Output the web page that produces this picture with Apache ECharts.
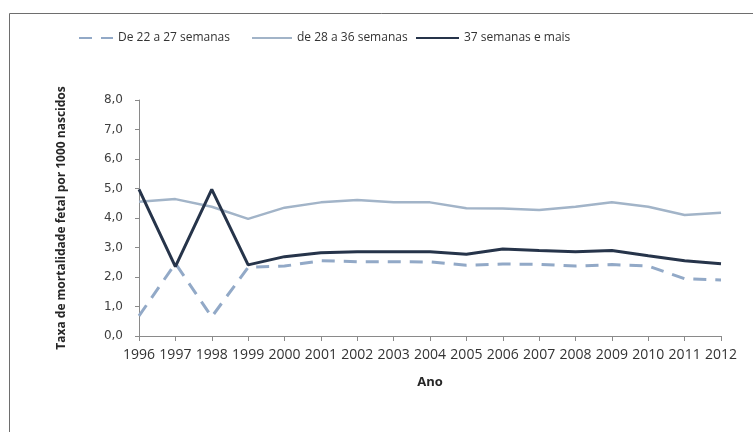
<!DOCTYPE html>
<html>
<head>
<meta charset="utf-8">
<script src="https://cdn.jsdelivr.net/npm/echarts@6/dist/echarts.min.js"></script>
<style>
  html, body { margin: 0; padding: 0; background: #fff; }
  #chart { width: 753px; height: 432px; }
</style>
</head>
<body>
<div id="chart"></div>
<script>
// Fetal mortality rate per 1000 births, by gestational age group
const years = ['1996','1997','1998','1999','2000','2001','2002','2003','2004',
               '2005','2006','2007','2008','2009','2010','2011','2012'];
const weeks22to27 = [0.68, 2.46, 0.65, 2.33, 2.37, 2.55, 2.52, 2.52, 2.51,
                     2.40, 2.44, 2.43, 2.37, 2.42, 2.37, 1.94, 1.90];
const weeks28to36 = [4.55, 4.64, 4.38, 3.97, 4.35, 4.53, 4.61, 4.53, 4.53,
                     4.33, 4.32, 4.27, 4.38, 4.53, 4.38, 4.10, 4.18];
const weeks37plus = [4.97, 2.35, 4.97, 2.41, 2.69, 2.82, 2.86, 2.86, 2.86,
                     2.77, 2.95, 2.90, 2.86, 2.90, 2.72, 2.55, 2.45];
const yTicks = [0, 1, 2, 3, 4, 5, 6, 7, 8];

const names = ['De 22 a 27 semanas', 'de 28 a 36 semanas', '37 semanas e mais'];
const colors = ['#92a9c7', '#a2b4c8', '#26344a'];

const chart = echarts.init(document.getElementById('chart'));

const legendText = { fontFamily: 'Open Sans', fontSize: 12, color: '#333333' };
// One legend per series so each entry sits at its own place on the top row
function legendAt(left, name, w) {
  return {
    left: left, top: 27, data: [name],
    itemWidth: w, itemHeight: 10, itemGap: 0,
    itemStyle: { opacity: 0 },
    textStyle: legendText,
    selectedMode: false
  };
}

chart.setOption({
  animation: false,
  backgroundColor: '#fff',
  graphic: [{
    type: 'rect', left: 7, top: 11,
    shape: { width: 800, height: 500 },
    style: { fill: 'none', stroke: '#6e6e6e', lineWidth: 1 },
    z: 0
  }],
  legend: [
    legendAt(73, names[0], 34),
    legendAt(246, names[1], 40),
    legendAt(410, names[2], 43)
  ],
  grid: { left: 139, right: 32, top: 100, bottom: 96 },
  xAxis: {
    type: 'category',
    data: years,
    boundaryGap: false,
    name: 'Ano',
    nameLocation: 'middle',
    nameGap: 40,
    nameTextStyle: { fontFamily: 'Open Sans', fontWeight: 'bold', fontSize: 13, color: '#262626' },
    axisLine: { lineStyle: { color: '#8a8a8a', width: 1 } },
    axisTick: { show: true, length: 5, alignWithLabel: true, lineStyle: { color: '#8a8a8a' } },
    axisLabel: { interval: 0, margin: 12, fontFamily: 'Open Sans', fontSize: 14, color: '#333333' },
    splitLine: { show: false }
  },
  yAxis: {
    type: 'value',
    min: yTicks[0],
    max: yTicks[yTicks.length - 1],
    interval: 1,
    name: 'Taxa de mortalidade fetal por 1000 nascidos',
    nameLocation: 'middle',
    nameGap: 71,
    nameTextStyle: { fontFamily: 'Open Sans', fontWeight: 'bold', fontSize: 12, color: '#262626' },
    axisLine: { show: true, lineStyle: { color: '#8a8a8a', width: 1 } },
    axisTick: { show: true, length: 4, lineStyle: { color: '#8a8a8a' } },
    axisLabel: {
      margin: 16, fontFamily: 'DejaVu Sans', fontSize: 12, color: '#404040',
      formatter: v => v.toFixed(1).replace('.', ',')
    },
    splitLine: { show: false }
  },
  series: [
    {
      name: names[0], type: 'line', data: weeks22to27,
      symbol: 'none', color: colors[0],
      lineStyle: { color: colors[0], width: 3, type: [13, 9] },
      z: 2
    },
    {
      name: names[1], type: 'line', data: weeks28to36,
      symbol: 'none', color: colors[1],
      lineStyle: { color: colors[1], width: 2.5 },
      z: 3
    },
    {
      name: names[2], type: 'line', data: weeks37plus,
      symbol: 'none', color: colors[2],
      lineStyle: { color: colors[2], width: 3 },
      z: 4
    }
  ]
});
</script>
</body>
</html>
